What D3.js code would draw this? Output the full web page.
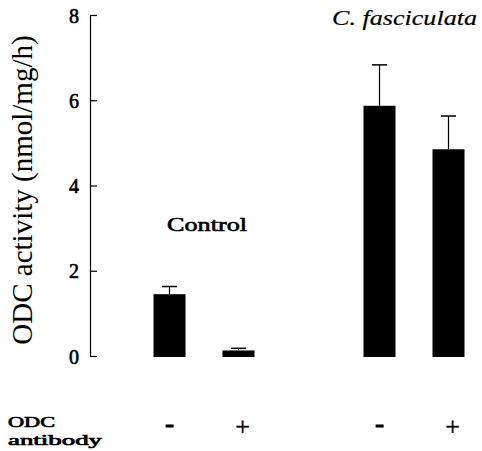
<!DOCTYPE html>
<html>
<head>
<meta charset="utf-8">
<script src="https://cdn.jsdelivr.net/npm/d3@7"></script>
<style>
  body { margin: 0; background: #fff; }
  svg { display: block; }
</style>
</head>
<body>
<div id="chart"></div>
<script>
var groups = ["Control", "C. fasciculata"];
var antibody = ["-", "+"];
var means = [[1.45, 0.13], [5.87, 4.85]];
var errors = [[1.63, 0.18], [6.83, 5.63]];
var yTicks = [0, 2, 4, 6, 8];

var width = 482, height = 451;
var serif = "Liberation Serif, Times New Roman, serif";

var svg = d3.select("#chart")
    .append("svg")
    .attr("width", width)
    .attr("height", height);

var y = d3.scaleLinear()
    .domain([0, 8])
    .range([356, 15]);

var xGroup = d3.scalePoint()
    .domain(groups)
    .range([204, 414]);

var xInner = d3.scalePoint()
    .domain(antibody)
    .range([-34.5, 34.5]);

var barWidth = 32, capWidth = 15;

var data = [];
groups.forEach(function (g, i) {
    antibody.forEach(function (a, j) {
        data.push({ group: g, ab: a, value: means[i][j], err: errors[i][j] });
    });
});

function cx(d) { return xGroup(d.group) + xInner(d.ab); }

// heavy looking text: regular serif with a thin outline
function heavy(sel, w) {
    return sel.attr("font-family", serif)
        .attr("fill", "#000")
        .attr("stroke", "#000")
        .attr("stroke-width", w);
}

// y axis, ticks pointing inward
var axis = svg.append("g")
    .attr("transform", "translate(90,0)")
    .call(d3.axisLeft(y).tickValues(yTicks).tickSizeInner(-7).tickSizeOuter(0).tickPadding(11));
axis.select(".domain").attr("stroke", "#000").attr("stroke-width", 1.2);
axis.selectAll(".tick line").attr("stroke", "#000").attr("stroke-width", 1.2);
heavy(axis.selectAll(".tick text"), 0.6)
    .attr("font-size", "20px")
    .attr("dy", "0.36em");

// error bars
svg.selectAll(".errline")
    .data(data)
    .enter()
    .append("line")
    .attr("x1", cx).attr("x2", cx)
    .attr("y1", function (d) { return y(d.value); })
    .attr("y2", function (d) { return y(d.err); })
    .attr("stroke", "#000").attr("stroke-width", 1.2);

svg.selectAll(".cap")
    .data(data)
    .enter()
    .append("line")
    .attr("x1", function (d) { return cx(d) - capWidth / 2; })
    .attr("x2", function (d) { return cx(d) + capWidth / 2; })
    .attr("y1", function (d) { return y(d.err); })
    .attr("y2", function (d) { return y(d.err); })
    .attr("stroke", "#000").attr("stroke-width", 1.5);

// bars
svg.selectAll(".bar")
    .data(data)
    .enter()
    .append("rect")
    .attr("class", "bar")
    .attr("x", function (d) { return cx(d) - barWidth / 2; })
    .attr("y", function (d) { return y(d.value); })
    .attr("width", barWidth)
    .attr("height", function (d) { return y(0) - y(d.value) + 1; })
    .attr("fill", "#000");

// y axis title
svg.append("text")
    .attr("transform", "translate(32,190) rotate(-90)")
    .attr("text-anchor", "middle")
    .attr("font-family", serif)
    .attr("font-size", "29px")
    .attr("fill", "#000")
    .text("ODC activity (nmol/mg/h)");

// group labels
heavy(svg.append("text"), 0.6)
    .attr("x", 167)
    .attr("y", 231)
    .attr("font-size", "19px")
    .attr("textLength", 80)
    .attr("lengthAdjust", "spacingAndGlyphs")
    .text(groups[0]);

svg.append("text")
    .attr("x", 332)
    .attr("y", 25)
    .attr("font-family", serif)
    .attr("font-size", "21px")
    .attr("font-style", "italic")
    .attr("fill", "#000")
    .attr("stroke", "#000")
    .attr("stroke-width", 0.2)
    .attr("textLength", 145)
    .attr("lengthAdjust", "spacingAndGlyphs")
    .text(groups[1]);

// antibody row
heavy(svg.selectAll(".ablabel")
    .data(data)
    .enter()
    .append("text"), 0.5)
    .attr("x", function (d) { return cx(d) + (d.ab === "+" ? 4 : 0); })
    .attr("y", function (d) { return d.ab === "+" ? 435 : 432; })
    .attr("text-anchor", "middle")
    .attr("font-size", "26px")
    .attr("stroke-width", function (d) { return d.ab === "+" ? 0.4 : 1.2; })
    .text(function (d) { return d.ab; });

heavy(svg.append("text"), 0.7)
    .attr("x", 8)
    .attr("y", 427)
    .attr("font-size", "15px")
    .attr("textLength", 47)
    .attr("lengthAdjust", "spacingAndGlyphs")
    .text("ODC");

heavy(svg.append("text"), 0.7)
    .attr("x", 8)
    .attr("y", 445)
    .attr("font-size", "15px")
    .attr("textLength", 94)
    .attr("lengthAdjust", "spacingAndGlyphs")
    .text("antibody");
</script>
</body>
</html>
